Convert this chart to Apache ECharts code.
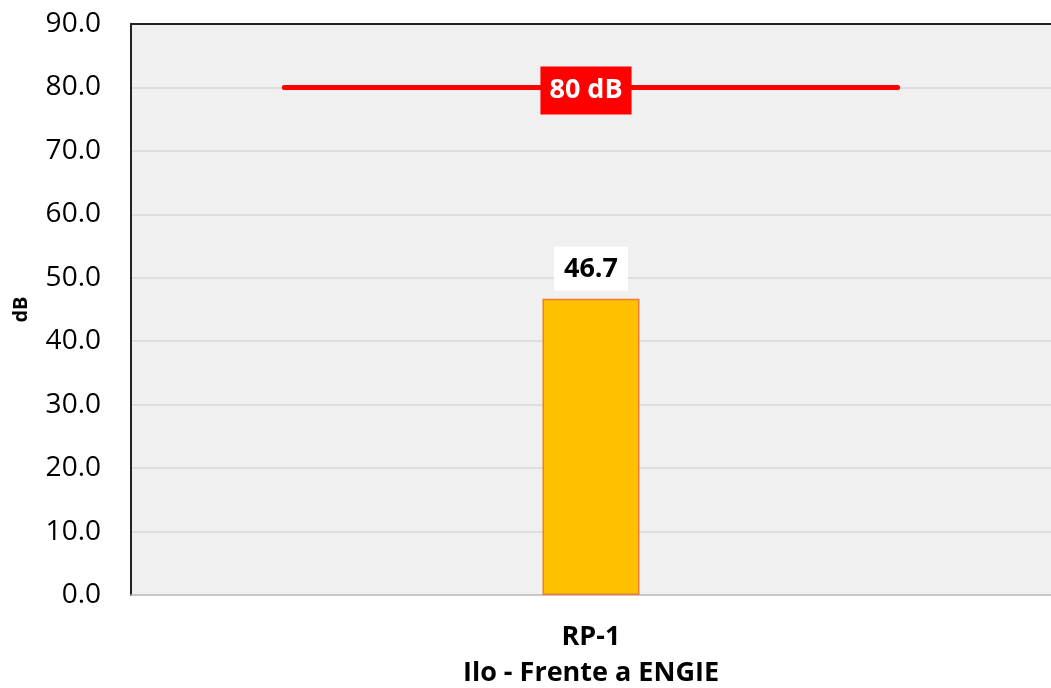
<!DOCTYPE html>
<html>
<head>
<meta charset="utf-8">
<script src="https://cdn.jsdelivr.net/npm/echarts@6/dist/echarts.min.js"></script>
<style>
  html, body { margin: 0; padding: 0; background: #ffffff; }
  #chart { width: 1051px; height: 688px; }
</style>
</head>
<body>
<div id="chart"></div>
<script>
// Noise level per monitoring point
const categories = ['RP-1\nIlo - Frente a ENGIE'];
const levels = [46.7];

// Limit line (drawn across a 3-slot secondary axis, labelled in the middle)
const limitSlots = ['', '', ''];
const limitValues = [80, 80, 80];
const limitLabel = '80 dB';

const yMin = 0, yMax = 90, yStep = 10;
const FONT = '"Open Sans", "Noto Sans", sans-serif';

const chart = echarts.init(document.getElementById('chart'), null, { renderer: 'canvas' });
chart.setOption({
  animation: false,
  backgroundColor: '#ffffff',
  grid: {
    left: 131, right: 0, top: 24, bottom: 93,
    outerBoundsMode: 'none',
    containLabel: false,
    show: true, backgroundColor: '#f0f0f0', borderWidth: 0
  },
  xAxis: [
    {
      type: 'category',
      data: categories,
      axisLine: { show: true, lineStyle: { color: '#bfbfbf', width: 1.5 } },
      axisTick: { show: false },
      axisLabel: {
        color: '#000', fontFamily: FONT, fontWeight: 'bold', fontSize: 27,
        lineHeight: 36, margin: 24
      }
    },
    {
      type: 'category',
      data: limitSlots,
      position: 'top',
      axisLine: { show: true, onZero: false, lineStyle: { color: '#222', width: 2 } },
      axisTick: { show: false },
      axisLabel: { show: false }
    }
  ],
  yAxis: {
    type: 'value',
    min: yMin, max: yMax, interval: yStep,
    name: 'dB',
    nameLocation: 'middle',
    nameGap: 100,
    nameRotate: 90,
    nameTextStyle: { color: '#000', fontFamily: FONT, fontWeight: 'bold', fontSize: 20 },
    axisLine: { show: true, lineStyle: { color: '#222', width: 2 } },
    axisTick: { show: false },
    axisLabel: {
      color: '#000', fontFamily: FONT, fontSize: 28, margin: 30,
      formatter: v => v.toFixed(1)
    },
    splitLine: { show: true, lineStyle: { color: '#d9d9d9', width: 1.5 } }
  },
  series: [
    {
      type: 'bar',
      xAxisIndex: 0,
      data: levels,
      barWidth: 97,
      itemStyle: { color: '#ffc000', borderColor: '#ed7d31', borderWidth: 1.5 },
      label: {
        show: true, position: 'top', distance: 8,
        formatter: p => p.value.toFixed(1),
        color: '#000', fontFamily: FONT, fontWeight: 'bold', fontSize: 27,
        backgroundColor: '#ffffff', padding: [9, 10, 8, 10]
      },
      z: 2
    },
    {
      type: 'line',
      xAxisIndex: 1,
      data: limitValues.map((v, i) => ({
        value: v,
        label: {
          show: i === 1, position: 'inside', offset: [-5, 3], formatter: limitLabel,
          color: '#fff', fontFamily: FONT, fontWeight: 'bold', fontSize: 27,
          backgroundColor: '#ff0000', padding: [11, 9, 10, 9]
        }
      })),
      symbol: 'circle',
      symbolSize: 0.1,
      showSymbol: true,
      itemStyle: { color: '#ff0000' },
      lineStyle: { color: '#ff0000', width: 5, cap: 'round' },
      z: 3
    }
  ]
});
</script>
</body>
</html>
